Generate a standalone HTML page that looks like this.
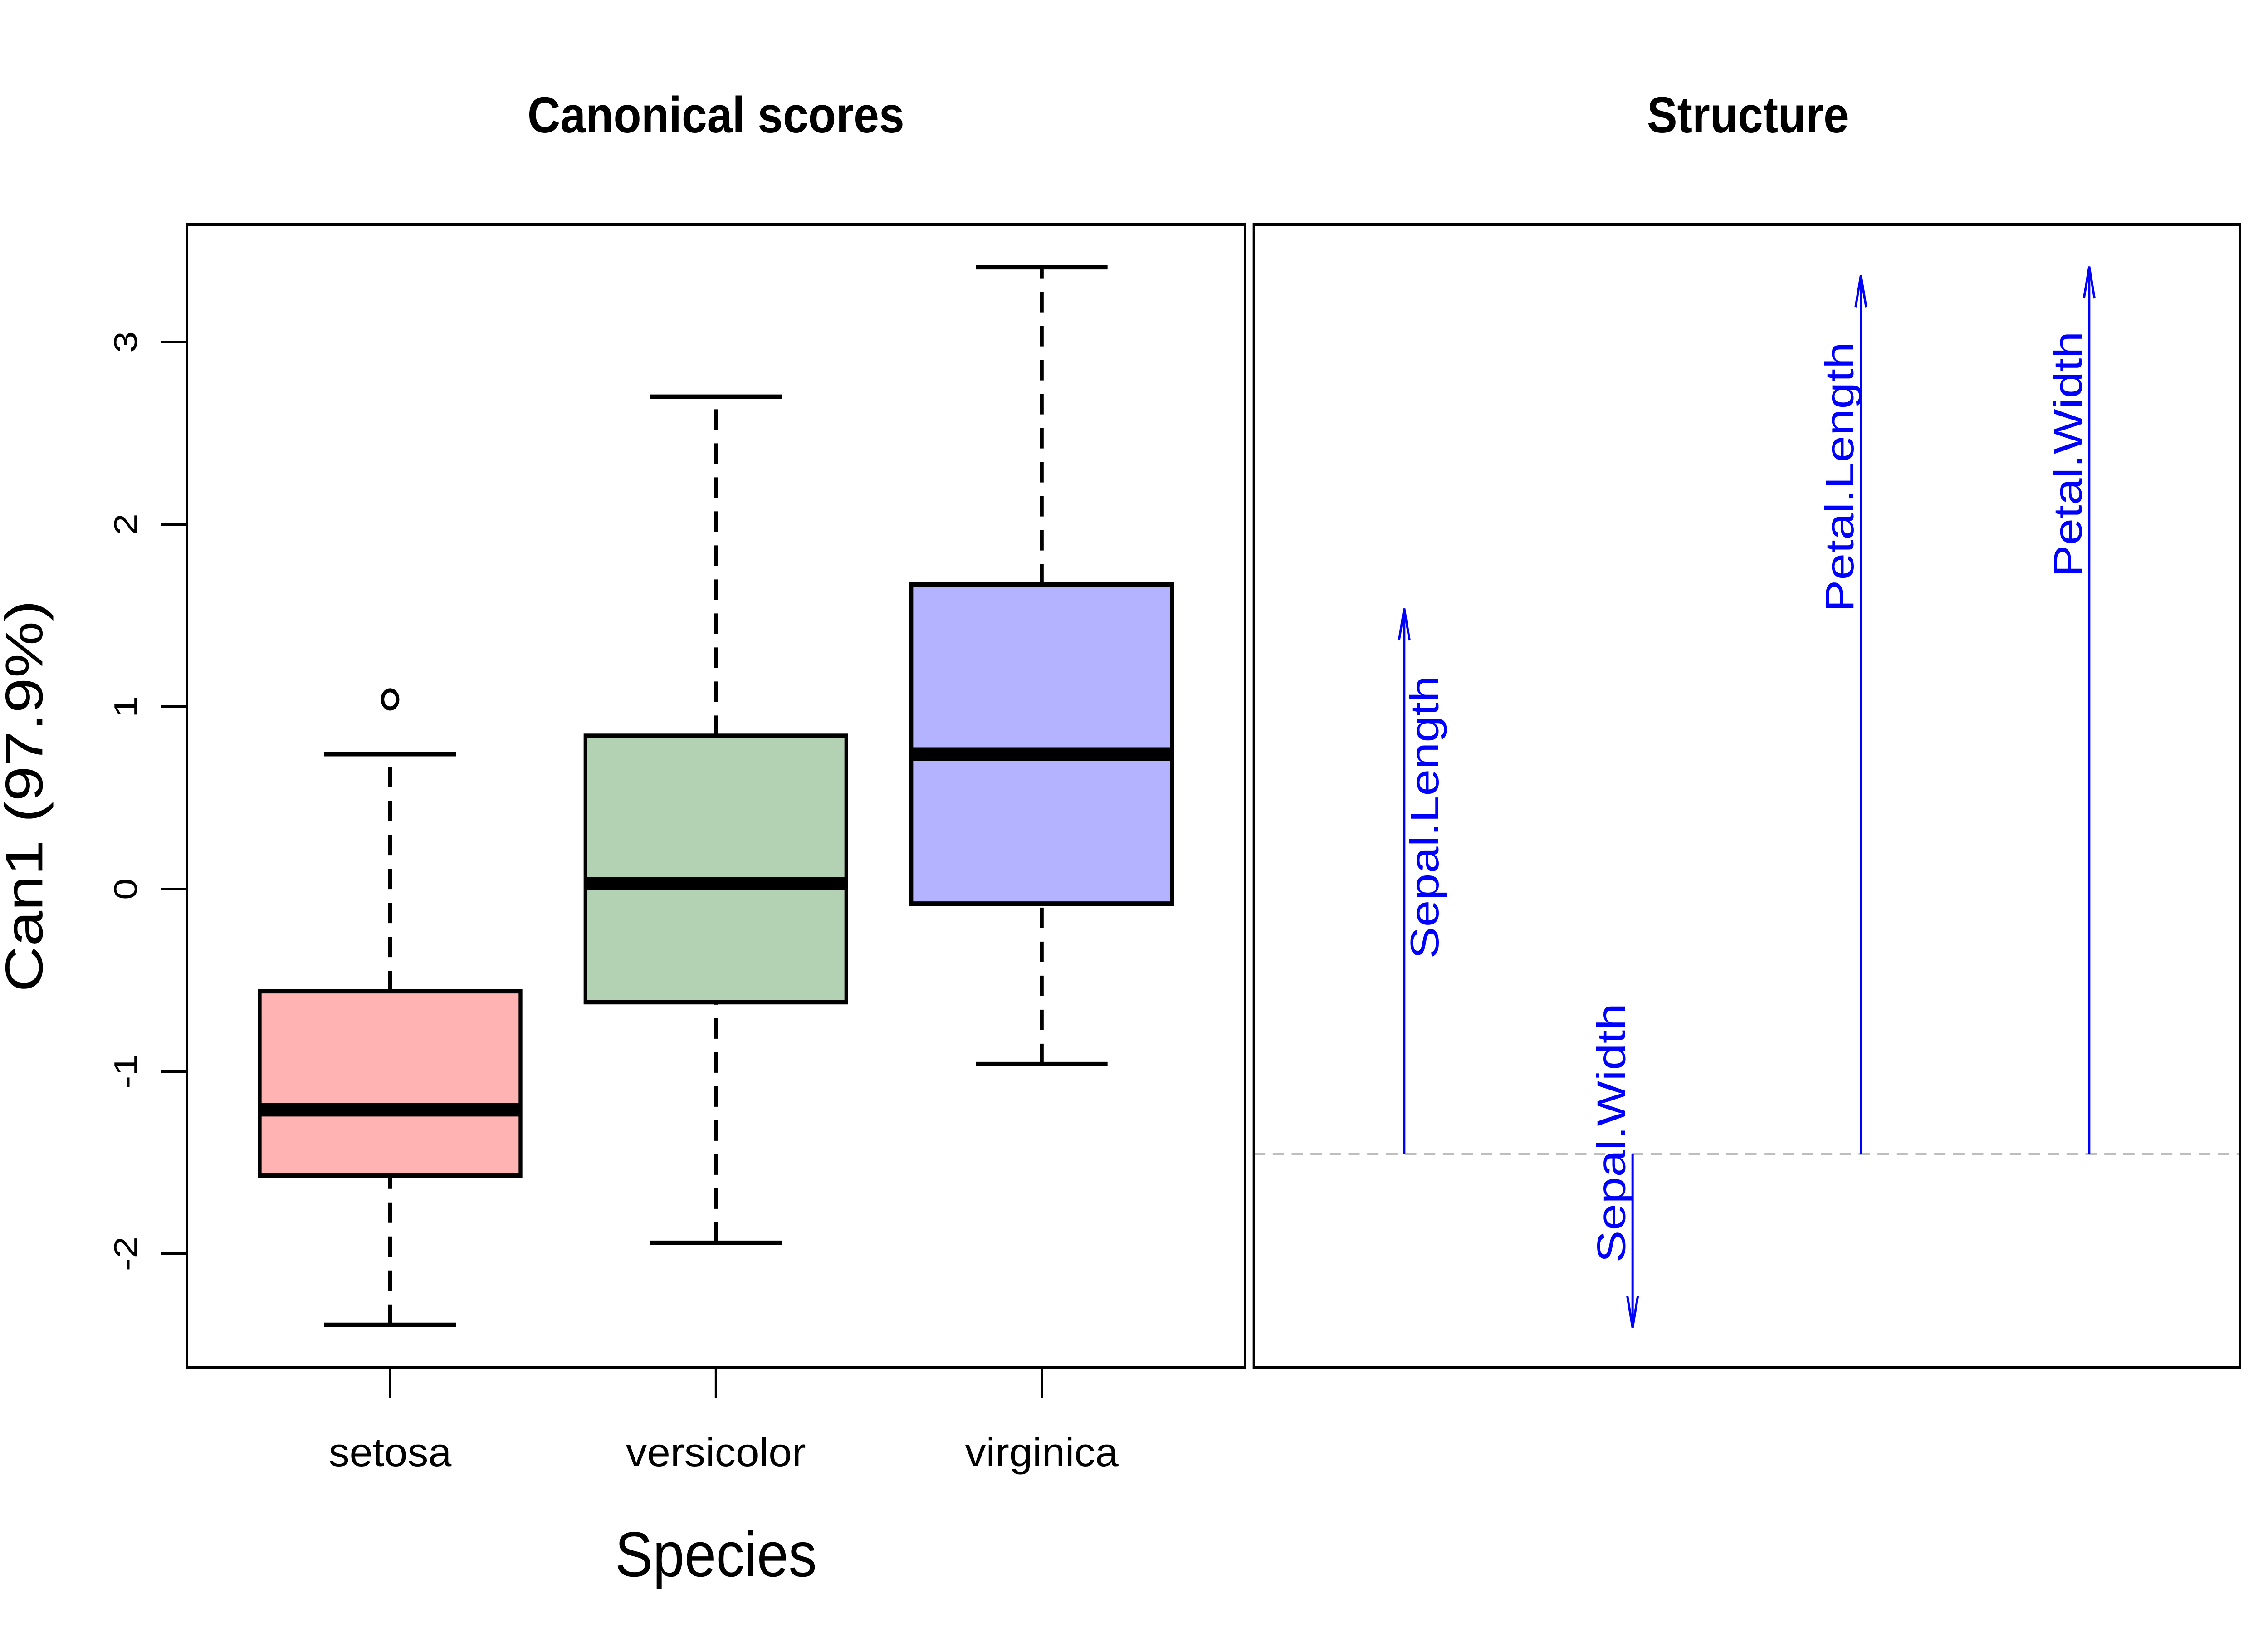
<!DOCTYPE html>
<html><head><meta charset="utf-8"><style>
html,body{margin:0;padding:0;background:#fff;overflow:hidden;width:100%;height:100%;}
svg{display:block;width:100vw;height:100vh;font-family:"Liberation Sans",Arial,sans-serif;}
</style></head><body>
<svg id="chart" viewBox="0 0 6000 3600" preserveAspectRatio="none" xmlns="http://www.w3.org/2000/svg">
<rect width="6000" height="3600" fill="#fff"/>
<text x="1894" y="292" font-size="112" font-weight="bold" text-anchor="middle" textLength="997" lengthAdjust="spacingAndGlyphs">Canonical scores</text>
<text x="4624" y="292" font-size="112" font-weight="bold" text-anchor="middle" textLength="534" lengthAdjust="spacingAndGlyphs">Structure</text>
<g id="left"></g>
<g id="right"></g>
<rect x="495" y="495" width="2799" height="2520" fill="none" stroke="#000" stroke-width="6"/>
<rect x="3317" y="495" width="2609" height="2520" fill="none" stroke="#000" stroke-width="6"/>
<text x="1894" y="3475" font-size="140" text-anchor="middle" textLength="534" lengthAdjust="spacingAndGlyphs">Species</text>
<text transform="translate(112,1755) rotate(-90)" font-size="140" text-anchor="middle">Can1 (97.9%)</text>
</svg>
<script>
const categories = ["setosa","versicolor","virginica"];
const whiskerLow = [-2.39,-1.94,-0.96];
const q1 = [-1.57,-0.62,-0.08];
const medians = [-1.21,0.03,0.74];
const q3 = [-0.56,0.84,1.67];
const whiskerHigh = [0.74,2.70,3.41];
const outliers = [[1.04],[],[]];
const yTicks = [-2,-1,0,1,2,3];
const boxColors = ["#FFB3B3","#B3D1B3","#B3B3FF"];
const labelWidths = [325,476,406];

const variables = ["Sepal.Length","Sepal.Width","Petal.Length","Petal.Width"];
const structure = [0.622,-0.198,1.002,1.012];
const labelPos = [0.384,0.024,0.772,0.798];

const NS="http://www.w3.org/2000/svg";
function mk(tag, attrs, parent, txt){const e=document.createElementNS(NS,tag);for(const k in attrs)e.setAttribute(k,attrs[k]);if(txt!==undefined)e.textContent=txt;parent.appendChild(e);return e;}
const yS = v => 1960 - v*402;
const xS = i => 1032 + i*862;
const L = document.getElementById('left');

yTicks.forEach(t=>{
  let l=mk('line',{x1:425,x2:495,y1:yS(t),y2:yS(t),stroke:'#000','stroke-width':6},L);
  
  
  let tx=mk('text',{transform:`translate(362,${yS(t)}) rotate(-90)`,'font-size':86,'text-anchor':'middle'},L,String(t));
  
  
});

categories.forEach((c,i)=>{
  const x=xS(i);
  const g=mk('g',{},L);
  
  
  const d={stroke:'#000','stroke-width':10,'stroke-dasharray':'45,30'};
  mk('line',Object.assign({x1:x,x2:x,y1:yS(whiskerLow[i]),y2:yS(q1[i])},d),g);
  mk('line',Object.assign({x1:x,x2:x,y1:yS(q3[i]),y2:yS(whiskerHigh[i])},d),g);
  mk('line',{x1:x-174,x2:x+174,y1:yS(whiskerLow[i]),y2:yS(whiskerLow[i]),stroke:'#000','stroke-width':10},g);
  mk('line',{x1:x-174,x2:x+174,y1:yS(whiskerHigh[i]),y2:yS(whiskerHigh[i]),stroke:'#000','stroke-width':10},g);
  mk('rect',{x:x-345,y:yS(q3[i]),width:690,height:yS(q1[i])-yS(q3[i]),fill:boxColors[i],stroke:'#000','stroke-width':10},g);
  mk('line',{x1:x-345,x2:x+345,y1:yS(medians[i]),y2:yS(medians[i]),stroke:'#000','stroke-width':30},g);
  outliers[i].forEach(o=>{
    const p=mk('circle',{cx:x,cy:yS(o),r:20,fill:'none',stroke:'#000','stroke-width':9},g);
    
    
  });
  let tk=mk('line',{x1:x,x2:x,y1:3015,y2:3082,stroke:'#000','stroke-width':6},L);
  
  
  let lb=mk('text',{x:x,y:3232,'font-size':88,'text-anchor':'middle',textLength:labelWidths[i],lengthAdjust:'spacingAndGlyphs'},L,c);
  
  
});

const R=document.getElementById('right');
const base=2544, unit=1933;
const vy = v => base - v*unit;
const vx = i => 3715 + i*604;
let bl=mk('line',{x1:3317,x2:5926,y1:base,y2:base,stroke:'#BEBEBE','stroke-width':5,'stroke-dasharray':'30,20'},R);


variables.forEach((v,i)=>{
  const x=vx(i), y=vy(structure[i]);
  const g=mk('g',{},R);
  
  
  mk('line',{x1:x,x2:x,y1:base,y2:y,stroke:'#0000FF','stroke-width':6},g);
  const dir = structure[i]>=0?1:-1;
  mk('polyline',{points:`${x-14},${y+dir*70} ${x},${y} ${x+14},${y+dir*70}`,fill:'none',stroke:'#0000FF','stroke-width':6},g);
  const lx = i===0 ? x+90 : x-20;
  const t=mk('text',{transform:`translate(${lx},${vy(labelPos[i])}) rotate(-90)`,'font-size':106,'text-anchor':'middle',fill:'#0000FF'},g,v);
  
  
});
</script>
</body></html>
